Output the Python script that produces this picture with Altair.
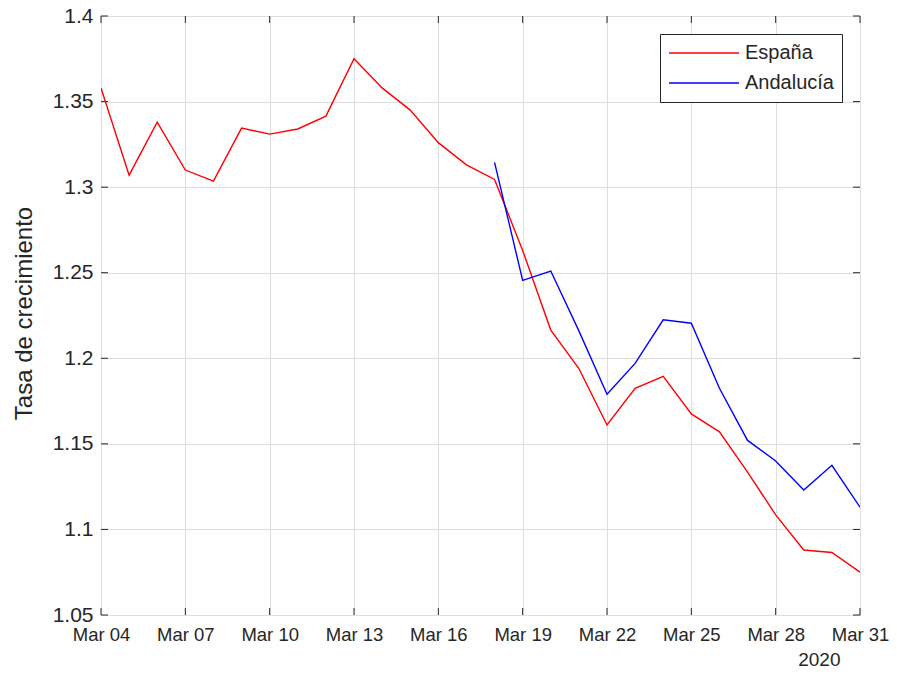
import altair as alt
import pandas as pd

# ---- data ----
dias_espana = list(range(4, 32))
tasa_espana = [1.358, 1.307, 1.338, 1.310, 1.3035, 1.3345, 1.331, 1.334, 1.3415, 1.375,
               1.358, 1.345, 1.326, 1.313, 1.3045, 1.263, 1.2165, 1.194, 1.161, 1.1825,
               1.1895, 1.1675, 1.157, 1.1335, 1.1085, 1.088, 1.0865, 1.075]
dias_andalucia = list(range(18, 32))
tasa_andalucia = [1.3145, 1.2455, 1.251, 1.216, 1.179, 1.197, 1.2225, 1.2205, 1.1825,
                  1.152, 1.140, 1.123, 1.1375, 1.113]
series = ["España", "Andalucía"]
colores = ["#ff0000", "#0000ff"]
x_tick_days = [4, 7, 10, 13, 16, 19, 22, 25, 28, 31]
y_ticks = [1.05, 1.1, 1.15, 1.2, 1.25, 1.3, 1.35, 1.4]

def fecha(d):
    return f"2020-03-{d:02d}"

rows = [{"fecha": fecha(d), "tasa": v, "serie": series[0]} for d, v in zip(dias_espana, tasa_espana)]
rows += [{"fecha": fecha(d), "tasa": v, "serie": series[1]} for d, v in zip(dias_andalucia, tasa_andalucia)]
df = pd.DataFrame(rows)
df_xt = pd.DataFrame({"fecha": [fecha(d) for d in x_tick_days]})
df_yt = pd.DataFrame({"tasa": y_ticks})

W, H = 759, 599
FONT = "Liberation Sans"
TXT = "#262626"
TICK = 7

x_scale = alt.Scale(type="utc", domain=[alt.DateTime(year=2020, month=3, date=4, utc=True),
                                        alt.DateTime(year=2020, month=3, date=31, utc=True)])
y_scale = alt.Scale(domain=[1.05, 1.4], nice=False, zero=False)

x_axis = alt.Axis(
    values=[alt.DateTime(year=2020, month=3, date=d, utc=True) for d in x_tick_days],
    format="%b %d", labelFlush=False, labelOverlap=False, domain=False, ticks=False,
    grid=True, gridColor="#dedede", gridWidth=1,
    labelFont=FONT, labelFontSize=18.5, labelColor=TXT, labelPadding=10,
    title="2020", titleFont=FONT, titleFontSize=19, titleFontWeight="normal", titleColor=TXT,
    titleX=739, titleY=50, titleAlign="right", titleBaseline="alphabetic",
)
y_axis = alt.Axis(
    values=y_ticks, format=".2~f", labelFlush=False, labelOverlap=False, domain=False, ticks=False,
    grid=True, gridColor="#dedede", gridWidth=1,
    labelFont=FONT, labelFontSize=21, labelColor=TXT, labelPadding=8,
    title="Tasa de crecimiento", titleFont=FONT, titleFontSize=24, titleFontWeight="normal",
    titleColor=TXT, titleX=-70, titleY=297, titleAngle=270, titleAlign="center",
    titleBaseline="alphabetic",
)

x_enc = alt.X("fecha:T", scale=x_scale, axis=x_axis)
y_enc = alt.Y("tasa:Q", scale=y_scale, axis=y_axis)

lines = alt.Chart(df).mark_line(strokeWidth=1.4, clip=True).encode(
    x=x_enc, y=y_enc,
    color=alt.Color("serie:N", sort=series,
                    scale=alt.Scale(domain=series, range=colores),
                    legend=alt.Legend(
                        title=None, orient="none", legendX=559, legendY=18, direction="vertical",
                        symbolType="stroke", symbolSize=4900, symbolStrokeWidth=1.4,
                        labelFont=FONT, labelFontSize=20, labelColor=TXT, labelOffset=5,
                        strokeColor=TXT, fillColor="white", padding=8,
                        clipHeight=22, rowPadding=8,
                    )),
    detail="serie:N",
)

xt_bottom = alt.Chart(df_xt).mark_rule(color=TXT, strokeWidth=1).encode(
    x=x_enc, y=alt.value(H), y2=alt.value(H - TICK))
xt_top = alt.Chart(df_xt).mark_rule(color=TXT, strokeWidth=1).encode(
    x=x_enc, y=alt.value(0), y2=alt.value(TICK))
yt_left = alt.Chart(df_yt).mark_rule(color=TXT, strokeWidth=1).encode(
    y=y_enc, x=alt.value(0), x2=alt.value(TICK))
yt_right = alt.Chart(df_yt).mark_rule(color=TXT, strokeWidth=1).encode(
    y=y_enc, x=alt.value(W), x2=alt.value(W - TICK))

chart = alt.layer(xt_bottom, xt_top, yt_left, yt_right, lines).properties(
    width=W, height=H,
    autosize=alt.AutoSizeParams(type="none"),
    padding={"left": 93, "top": 8, "right": 29, "bottom": 55},
).configure_view(stroke=TXT, strokeWidth=1.3).configure(background="white")

chart.save("out.html", embed_options={"renderer": "svg", "actions": False})
